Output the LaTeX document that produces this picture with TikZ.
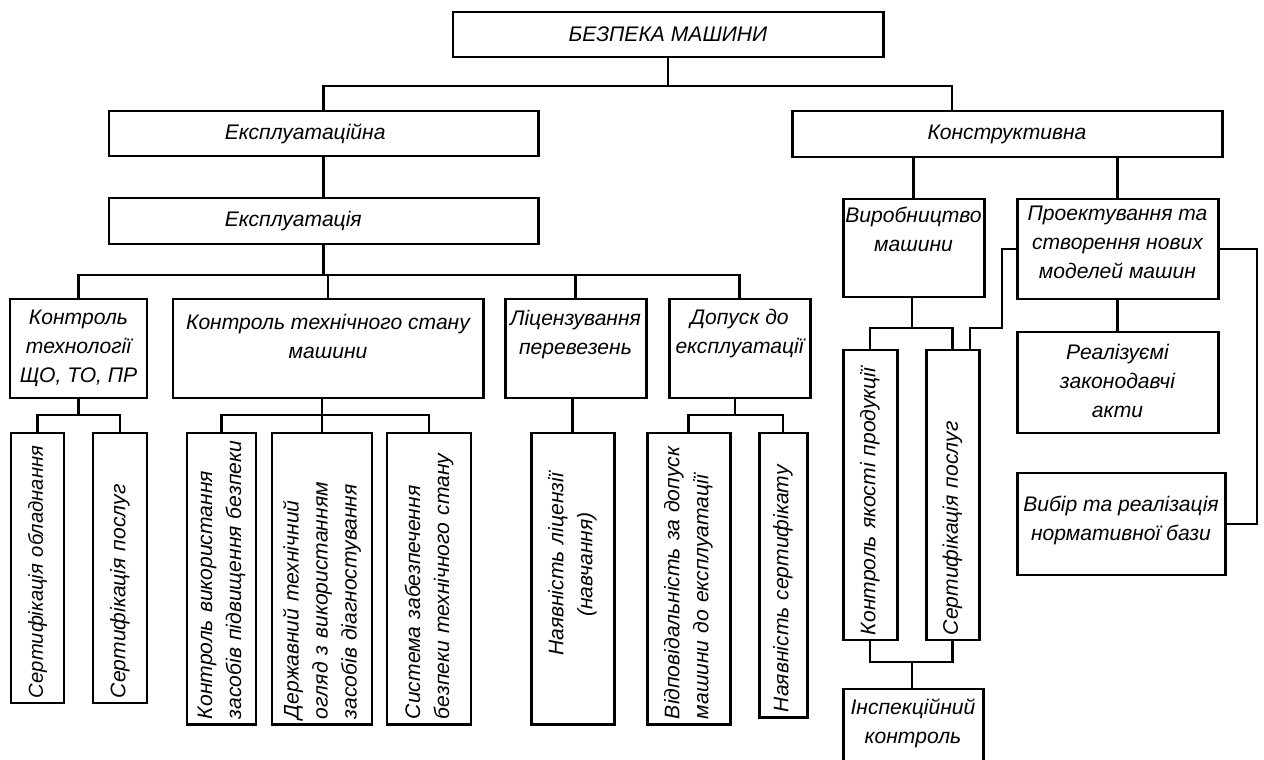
\documentclass[tikz,border=0pt]{standalone}
\usepackage{fontspec}
\setmainfont{Liberation Sans}
\usetikzlibrary{positioning, calc}
\tikzset{
  box/.style 2 args={draw, line width=1.7pt, minimum width=#1*0.02cm, minimum height=#2*0.02cm, inner sep=0pt},
  vbox/.style 2 args={draw, line width=1.7pt, rotate=90, inner xsep=0.1cm, inner ysep=0pt, text width=#2*0.02cm-0.2cm, minimum height=#1*0.02cm, align=left},
  txt/.style={align=center, inner sep=0pt},
  wire/.style={line width=1.4pt}
}
\begin{document}
\begin{tikzpicture}[x=0.02cm, y=-0.02cm, every node/.style={font=\itshape\fontsize{12}{16.5}\selectfont}]
    \useasboundingbox (0,0) rectangle (1264,760);
    \clip (0,0) rectangle (1264,760);

    % Top levels
    \node[box={430}{45}] (top) at (668,34.5) {БЕЗПЕКА МАШИНИ};
    \node[box={429}{45}] (ekspl) at (323.5,133.5) {};
    \node[txt, anchor=west] (eksplT) at ([xshift=2.34cm]ekspl.west) {Експлуатаційна};
    \node[box={430}{46}] (konstr) at (1007,134) {Конструктивна};
    \node[box={429}{46}] (ekspluat) at (323.5,221) {};
    \node[txt, anchor=west] (ekspluatT) at ([xshift=2.34cm]ekspluat.west) {Експлуатація};

    % Exploitation branch
    \node[box={137}{99}] (kontech) at (78.5,348.5) {};
    \node[txt, below=0.25cm of kontech.north] (kontechT) {Контроль\\технології\\ЩО, ТО, ПР};
    \node[box={310}{99}] (kstan) at (328,348.5) {};
    \node[txt, below=0.33cm of kstan.north] (kstanT) {Контроль технічного стану\\машини};
    \node[box={141}{99}] (lic) at (575.5,348.5) {};
    \node[txt, below=0.25cm of lic.north] (licT) {Ліцензування\\перевезень};
    \node[box={141}{99}] (dop) at (739.5,348.5) {};
    \node[txt, below=0.22cm of dop.north] (dopT) {Допуск до\\експлуатації};

    % Vertical boxes
    \node[vbox={53}{270}, font=\itshape\fontsize{11.5}{16}\selectfont] (sobl) at (37.5,568) {\mbox{Сертифікація обладнання}};
    \node[vbox={54}{270}] (sposl) at (120,568) {Сертифікація послуг};
    \node[vbox={69}{291}] (kvyk) at (221.5,578.5) {Контроль використання\\засобів підвищення безпеки};
    \node[vbox={100}{291}] (derzh) at (322,578.5) {Державний технічний\\огляд з використанням\\засобів діагностування};
    \node[vbox={84}{291}] (syst) at (429,578.5) {Система забезпечення\\безпеки технічного стану};
    \node[vbox={83}{291}, align=center] (nlic) at (572.5,578.5) {\hspace*{0.56cm}Наявність ліцензії\\\hspace*{0.56cm}(навчання)};
    \node[vbox={83}{291}] (vidp) at (688.5,578.5) {Відповідальність за допуск\\машини до експлуатації};
    \node[vbox={48}{284}] (nsert) at (783,575) {Наявність сертифікату};

    % Design branch
    \node[box={141}{98}] (vyrob) at (913.5,248) {};
    \node[txt, below=0.18cm of vyrob.north] (vyrobT) {Виробництво\\машини};
    \node[box={201}{100}] (proekt) at (1117.5,249) {};
    \node[txt, below=0.16cm of proekt.north] (proektT) {Проектування та\\створення нових\\моделей машин};
    \node[box={201}{101}] (realiz) at (1117.5,382.5) {};
    \node[txt, below=0.26cm of realiz.north] (realizT) {Реалізуємі\\законодавчі\\акти};
    \node[box={208}{102}] (vybir) at (1121,524) {};
    \node[txt, below=0.48cm of vybir.north] (vybirT) {Вибір та реалізація\\нормативної бази};
    \node[vbox={54}{290}] (kyak) at (870,495) {Контроль якості продукції};
    \node[vbox={53}{290}] (spos2) at (952.5,495) {Сертифікація послуг};
    \node[box={140}{91}] (insp) at (913,734.5) {};
    \node[txt, below=0.22cm of insp.north] (inspT) {Інспекційний\\контроль};

    % Bus points
    \coordinate (busT) at (668,86);
    \coordinate (busE) at (323.5,275);
    \coordinate (busK) at (78.5,415);
    \coordinate (busS) at (322,415);
    \coordinate (busD) at (735,415);
    \coordinate (busV) at (912,328);
    \coordinate (busI) at (912,662);
    \coordinate (loopL) at (1002,328);
    \coordinate (loopR) at (1257,524);

    % Connections
    \draw[wire] (top.south) -- (busT);
    \draw[wire] (ekspl.north) |- (busT) -| ([xshift=-1.1cm]konstr.north);
    \draw[wire] (ekspl.south) -- (ekspluat.north);
    \draw[wire] (ekspluat.south) -- (busE);
    \draw[wire] (kontech.north) |- (dop.north |- busE) -- (dop.north);
    \draw[wire] (kstan.north) -- (kstan.north |- busE);
    \draw[wire] (lic.north) -- (lic.north |- busE);

    \draw[wire] (kontech.south) -- (busK);
    \draw[wire] (sobl.east) |- (busK) -| (sposl.east);
    \draw[wire] (kvyk.east) |- (busS) -| (syst.east);
    \draw[wire] (derzh.east) -- (derzh.east |- kstan.south);
    \draw[wire] (nlic.east) -- (nlic.east |- lic.south);
    \draw[wire] (busD) -- (busD |- dop.south);
    \draw[wire] (vidp.east) |- (busD) -| (nsert.east);

    \draw[wire] (vyrob.north) -- (vyrob.north |- konstr.south);
    \draw[wire] (proekt.north) -- (proekt.north |- konstr.south);
    \draw[wire] (busV |- vyrob.south) -- (busV);
    \draw[wire] (kyak.east) |- (busV) -| (spos2.east);
    \draw[wire] (proekt.west) -| (loopL) -| ([xshift=0.35cm]spos2.east);
    \draw[wire] (proekt.south) -- (realiz.north);
    \draw[wire] (proekt.east) -| (loopR) -- (vybir.east);
    \draw[wire] (kyak.west) |- (busI) -| (spos2.west);
    \draw[wire] (busI) -- (busI |- insp.north);
\end{tikzpicture}
\end{document}
